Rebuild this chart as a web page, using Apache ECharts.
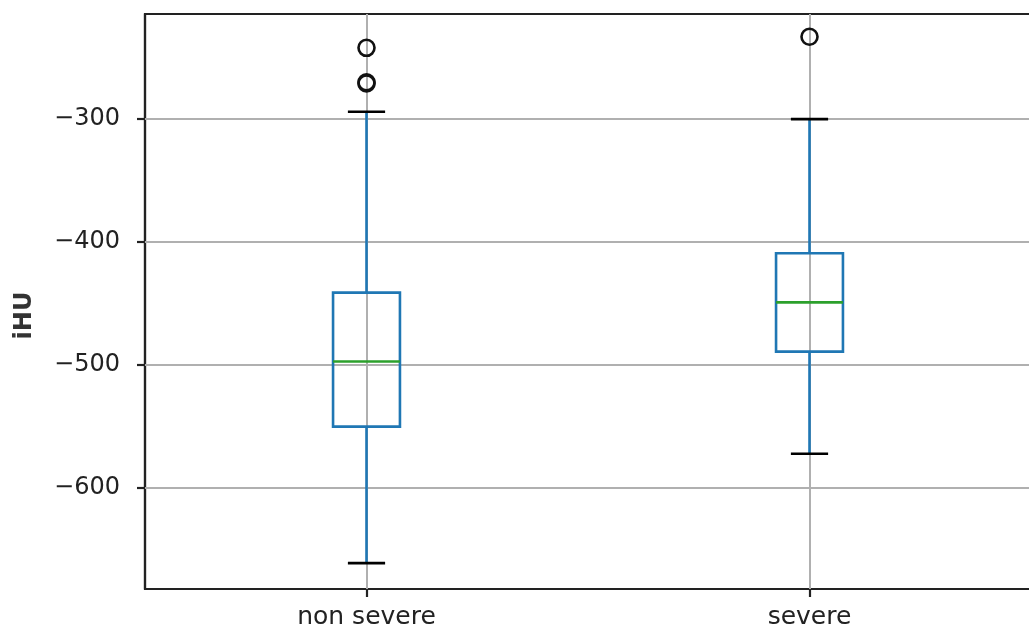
<!DOCTYPE html>
<html>
<head>
<meta charset="utf-8">
<script src="https://cdn.jsdelivr.net/npm/echarts@6/dist/echarts.min.js"></script>
<style>
  html, body { margin: 0; padding: 0; background: #fff; }
  #chart { width: 1029px; height: 632px; }
</style>
</head>
<body>
<div id="chart"></div>
<script>
// groups on the x axis
const categories = ['non severe', 'severe'];

// [lower whisker, Q1, median, Q3, upper whisker]
const nonSevereBox = [-661, -550, -497, -441, -294];
const severeBox = [-572, -489, -449, -409, -300];

// points beyond the whiskers
const nonSevereOutliers = [-242, -270, -271];
const severeOutliers = [-233];

const yTicks = [-300, -400, -500, -600];

const boxes = [nonSevereBox, severeBox];
const outliers = [nonSevereOutliers, severeOutliers];

const chart = echarts.init(document.getElementById('chart'));

function fmt(v) {
  return String(v).replace('-', '\u2212');
}

function renderBox(params, api) {
  const x = api.value(0);
  const lo = api.coord([x, api.value(1)]);
  const q1 = api.coord([x, api.value(2)]);
  const med = api.coord([x, api.value(3)]);
  const q3 = api.coord([x, api.value(4)]);
  const hi = api.coord([x, api.value(5)]);
  const band = api.size([1, 0])[0];
  const bw = band * 0.151;
  const cw = band * 0.084;
  const cx = med[0];
  const blue = { stroke: '#1f77b4', lineWidth: 2.6, fill: null };
  return {
    type: 'group',
    children: [
      { type: 'line', shape: { x1: cx, y1: q3[1], x2: cx, y2: hi[1] }, style: blue },
      { type: 'line', shape: { x1: cx, y1: q1[1], x2: cx, y2: lo[1] }, style: blue },
      { type: 'rect', shape: { x: cx - bw / 2, y: q3[1], width: bw, height: q1[1] - q3[1] }, style: blue },
      { type: 'line', shape: { x1: cx - bw / 2, y1: med[1], x2: cx + bw / 2, y2: med[1] },
        style: { stroke: '#2ca02c', lineWidth: 2.6 } },
      { type: 'line', shape: { x1: cx - cw / 2, y1: hi[1], x2: cx + cw / 2, y2: hi[1] },
        style: { stroke: '#000', lineWidth: 2.6 } },
      { type: 'line', shape: { x1: cx - cw / 2, y1: lo[1], x2: cx + cw / 2, y2: lo[1] },
        style: { stroke: '#000', lineWidth: 2.6 } }
    ]
  };
}

const gridLine = { color: '#b0b0b0', width: 2, type: 'solid' };

const option = {
  animation: false,
  textStyle: { fontFamily: 'DejaVu Sans' },
  grid: {
    left: 145, top: 14, right: -2, bottom: 43,
    containLabel: false,
    outerBoundsMode: 'none',
    show: true,
    borderColor: '#222',
    borderWidth: 2.2,
    backgroundColor: 'transparent'
  },
  xAxis: {
    type: 'category',
    data: categories,
    boundaryGap: true,
    axisLine: { show: true, lineStyle: { color: '#222', width: 2.2 } },
    axisTick: { show: true, alignWithLabel: true, inside: false, length: 8,
      lineStyle: { color: '#222', width: 2.2 } },
    axisLabel: { color: '#222', fontSize: 25, margin: 16, fontFamily: 'DejaVu Sans' },
    splitLine: { show: false }
  },
  yAxis: {
    type: 'value',
    min: -682,
    max: -214.5,
    name: 'iHU',
    nameLocation: 'middle',
    nameGap: 108,
    nameRotate: 90,
    nameTextStyle: { color: '#333', fontSize: 24, fontWeight: 'bold', fontFamily: 'DejaVu Sans',
      padding: [0, 28, 0, 0] },
    axisLine: { show: true, lineStyle: { color: '#222', width: 2.2 } },
    axisTick: { show: true, inside: false, length: 8, customValues: yTicks,
      lineStyle: { color: '#222', width: 2.2 } },
    axisLabel: { color: '#222', fontSize: 24, margin: 25, customValues: yTicks,
      formatter: fmt, fontFamily: 'DejaVu Sans' },
    splitLine: { show: false }
  },
  series: [
    {
      type: 'custom',
      z: 3,
      renderItem: renderBox,
      encode: { x: 0, y: [1, 2, 3, 4, 5] },
      data: boxes.map((b, i) => [i].concat(b)),
      markLine: {
        silent: true,
        z: 1,
        symbol: 'none',
        label: { show: false },
        emphasis: { disabled: true },
        lineStyle: gridLine,
        data: yTicks.map(v => ({ yAxis: v }))
          .concat(categories.map(c => ({ xAxis: c })))
      }
    },
    {
      type: 'scatter',
      z: 4,
      symbol: 'circle',
      symbolSize: 16,
      itemStyle: { color: 'rgba(0,0,0,0)', borderColor: '#111', borderWidth: 2.6, opacity: 1 },
      emphasis: { disabled: true },
      data: outliers.flatMap((vals, i) => vals.map(v => [categories[i], v]))
    }
  ]
};

chart.setOption(option);
</script>
</body>
</html>
